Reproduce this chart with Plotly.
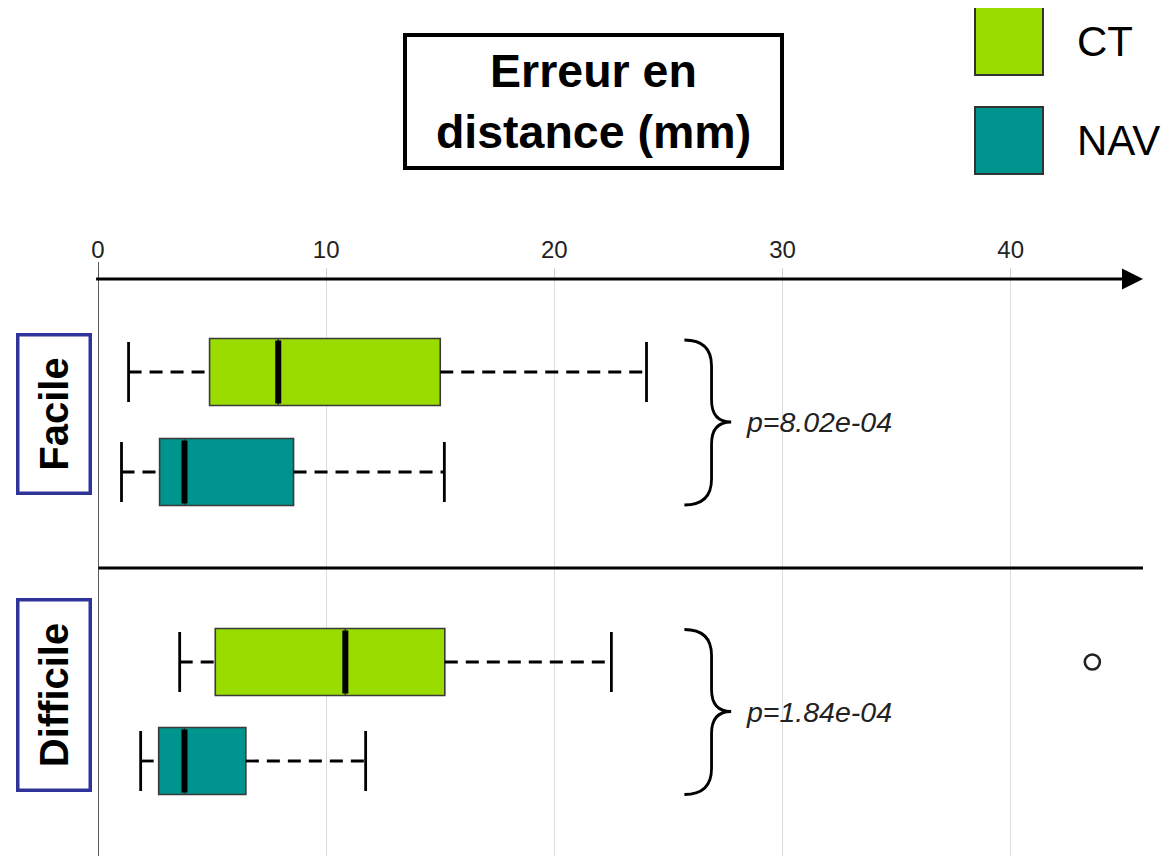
import plotly.graph_objects as go

# ---------------- data ----------------
groups = ["Facile", "Difficile"]
series = ["CT", "NAV"]
p_values = ["p=8.02e-04", "p=1.84e-04"]

ct_low = [1.34, 3.58]
ct_q1 = [4.89, 5.14]
ct_med = [7.90, 10.84]
ct_q3 = [15.0, 15.2]
ct_high = [24.04, 22.5]
ct_outliers = [[], [43.58]]

nav_low = [1.03, 1.87]
nav_q1 = [2.70, 2.66]
nav_med = [3.79, 3.79]
nav_q3 = [8.57, 6.48]
nav_high = [15.18, 11.73]
nav_outliers = [[], []]

x_ticks = [0, 10, 20, 30, 40]

# ---------------- layout constants ----------------
OFF = 8  # page body margin
W, H = 1176 - OFF, 856 - OFF
L, R, T, B = 98 - OFF, 33, 279 - OFF, 0
PW, PH = W - L - R, H - T - B
X_MAX = 45.8
Y_MAX = 5.77
row_pos = {("Facile", "CT"): 0.93, ("Facile", "NAV"): 1.93,
           ("Difficile", "CT"): 3.83, ("Difficile", "NAV"): 4.82}
sep_y = 2.89
colors = {"CT": "#9adc00", "NAV": "#00948f"}
FONT = "Liberation Sans, Arial, sans-serif"
BOX_W = 0.67
CAP_H = 0.30


def pxx(px):
    return (px - OFF - L) / PW


def pxy(py):
    return (H - (py - OFF)) / PH


fig = go.Figure()

data = {
    "CT": (ct_low, ct_q1, ct_med, ct_q3, ct_high, ct_outliers),
    "NAV": (nav_low, nav_q1, nav_med, nav_q3, nav_high, nav_outliers),
}

for s in series:
    low, q1, med, q3, high, outl = data[s]
    for gi, g in enumerate(groups):
        yp = row_pos[(g, s)]
        # dashed whiskers
        for a, b in ((low[gi], q1[gi]), (q3[gi], high[gi])):
            fig.add_trace(go.Scatter(x=[a, b], y=[yp, yp], mode="lines",
                                     line=dict(color="black", width=2.8, dash="13px,8px"),
                                     hoverinfo="skip", showlegend=False))
        # caps
        for v in (low[gi], high[gi]):
            fig.add_trace(go.Scatter(x=[v, v], y=[yp - CAP_H, yp + CAP_H], mode="lines",
                                     line=dict(color="black", width=2.8),
                                     hoverinfo="skip", showlegend=False))
        # box
        fig.add_trace(go.Box(orientation="h", y=[yp], q1=[q1[gi]], median=[med[gi]],
                             q3=[q3[gi]], lowerfence=[q1[gi]], upperfence=[q3[gi]],
                             width=BOX_W, fillcolor=colors[s],
                             line=dict(color="#3a3a3a", width=1.6),
                             boxpoints=False, hoverinfo="skip", showlegend=False))
        # median
        fig.add_trace(go.Scatter(x=[med[gi], med[gi]], y=[yp - BOX_W / 2 + 0.02, yp + BOX_W / 2 - 0.02],
                                 mode="lines", line=dict(color="black", width=6),
                                 hoverinfo="skip", showlegend=False))
        # outliers
        if outl[gi]:
            fig.add_trace(go.Scatter(x=outl[gi], y=[yp] * len(outl[gi]), mode="markers",
                                     marker=dict(symbol="circle-open", size=15, color="#222",
                                                 line=dict(width=2.6)),
                                     hoverinfo="skip", showlegend=False))

shapes = []
annotations = []

# braces and p-values
BR_X0, BR_XM, BR_XT = 25.7, 26.89, 27.75
for gi, g in enumerate(groups):
    yc = (row_pos[(g, "CT")] + row_pos[(g, "NAV")]) / 2
    yt, yb = yc - 0.82, yc + 0.83
    r, r2 = 0.26, 0.22
    path = (f"M {BR_X0},{yt} Q {BR_XM},{yt} {BR_XM},{yt + r} "
            f"L {BR_XM},{yc - r2} Q {BR_XM},{yc} {BR_XT},{yc} "
            f"Q {BR_XM},{yc} {BR_XM},{yc + r2} "
            f"L {BR_XM},{yb - r} Q {BR_XM},{yb} {BR_X0},{yb}")
    shapes.append(dict(type="path", path=path, xref="x", yref="y",
                       line=dict(color="black", width=2.8)))
    annotations.append(dict(x=28.3, y=yc, xref="x", yref="y", text=f"<i>{p_values[gi]}</i>",
                            showarrow=False, xanchor="left", yanchor="middle",
                            font=dict(family=FONT, size=28.5, color="#222")))

# separator
shapes.append(dict(type="line", xref="x", yref="y", x0=-0.15, x1=X_MAX, y0=sep_y, y1=sep_y,
                   line=dict(color="black", width=3)))
# left vertical axis
shapes.append(dict(type="line", xref="x", yref="paper", x0=0, x1=0, y0=0, y1=pxy(262),
                   line=dict(color="#333", width=1.6)))
# top axis arrow
annotations.append(dict(x=X_MAX, y=0, xref="x", yref="y", ax=-0.15, ay=0, axref="x", ayref="y",
                        text="", showarrow=True, arrowhead=2, arrowsize=1.4, arrowwidth=3,
                        arrowcolor="black", standoff=0))

# title box
annotations.append(dict(x=pxx(593.5), y=pxy(101.5), xref="paper", yref="paper",
                        text="<b>Erreur en<br>distance (mm)</b>", showarrow=False,
                        xanchor="center", yanchor="middle", width=373, height=129,
                        bordercolor="black", borderwidth=4, borderpad=0, bgcolor="white",
                        font=dict(family=FONT, size=46.5, color="black")))

# legend
leg = [("CT", 7, 75, 42), ("NAV", 107, 174, 140)]
for name, y0, y1, yc in leg:
    shapes.append(dict(type="rect", xref="paper", yref="paper", x0=pxx(975), x1=pxx(1043),
                       y0=pxy(y1), y1=pxy(y0), fillcolor=colors[name],
                       line=dict(color="#333", width=2)))
    annotations.append(dict(x=pxx(1075), y=pxy(yc), xref="paper", yref="paper", text=name,
                            showarrow=False, xanchor="left", yanchor="middle",
                            font=dict(family=FONT, size=42, color="black")))

# group labels
glab = [("Facile", 414.5, 155), ("Difficile", 695.5, 187)]
for name, yc, w in glab:
    annotations.append(dict(x=pxx(53.5), y=pxy(yc), xref="paper", yref="paper",
                            text=f"<b>{name}</b>", textangle=-90, showarrow=False,
                            xanchor="center", yanchor="middle", width=w, height=69,
                            bordercolor="#30339a", borderwidth=3.5, borderpad=0,
                            bgcolor="white", font=dict(family=FONT, size=40, color="black")))

fig.update_layout(
    width=W, height=H, margin=dict(l=L, r=R, t=T, b=B, pad=0),
    paper_bgcolor="white", plot_bgcolor="white", showlegend=False,
    shapes=shapes, annotations=annotations,
    xaxis=dict(range=[0, X_MAX], side="top", tickvals=x_ticks, ticktext=[str(v) for v in x_ticks],
               showgrid=True, gridcolor="#dcdcdc", gridwidth=1, zeroline=False, showline=False,
               ticks="outside", ticklen=10, tickcolor="#d0d0d0", tickwidth=1,
               tickfont=dict(family=FONT, size=24, color="#222"), fixedrange=True),
    yaxis=dict(range=[Y_MAX, 0], visible=False, fixedrange=True),
)

fig.write_html("out.html")
